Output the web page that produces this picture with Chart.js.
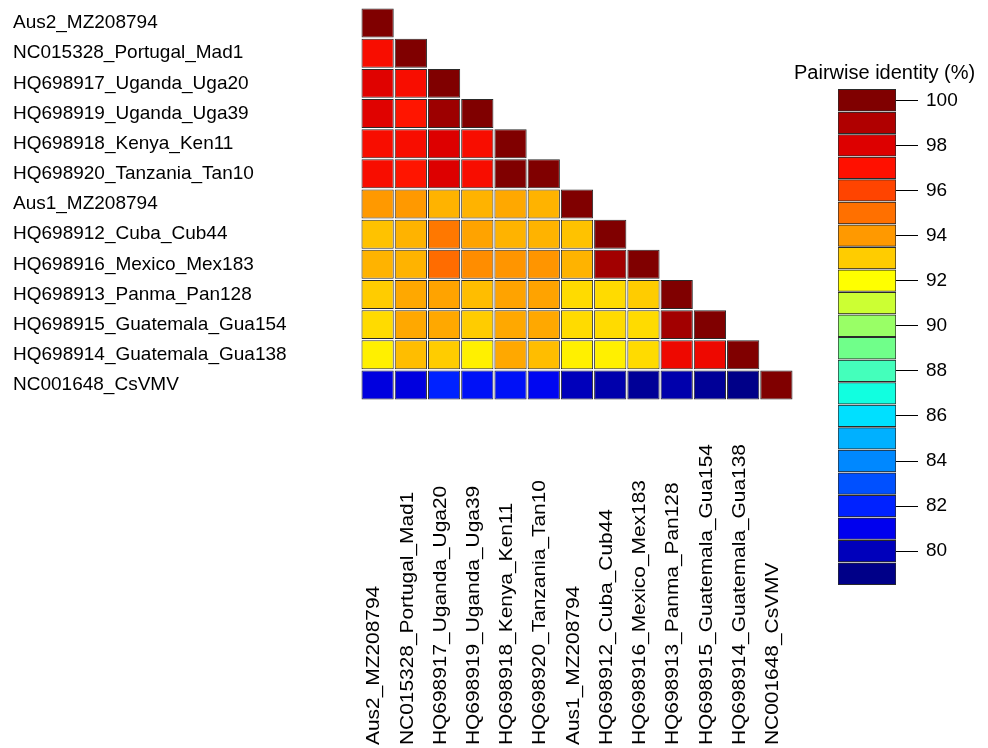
<!DOCTYPE html>
<html>
<head>
<meta charset="utf-8">
<script src="https://cdn.jsdelivr.net/npm/chart.js@4.4.1/dist/chart.umd.min.js"></script>
<style>
  body { margin: 0; background: #fff; overflow: hidden; }
  #wrap { position: relative; width: 988px; height: 748px; }
  #heatmap { position: absolute; left: 0; top: 0; }
  #colorbar { position: absolute; left: 780px; top: 0; }
</style>
</head>
<body>
<div id="wrap">
  <canvas id="heatmap" width="988" height="748"></canvas>
  <canvas id="colorbar" width="208" height="748"></canvas>
</div>
<script>
const isolates = [
  "Aus2_MZ208794",
  "NC015328_Portugal_Mad1",
  "HQ698917_Uganda_Uga20",
  "HQ698919_Uganda_Uga39",
  "HQ698918_Kenya_Ken11",
  "HQ698920_Tanzania_Tan10",
  "Aus1_MZ208794",
  "HQ698912_Cuba_Cub44",
  "HQ698916_Mexico_Mex183",
  "HQ698913_Panma_Pan128",
  "HQ698915_Guatemala_Gua154",
  "HQ698914_Guatemala_Gua138",
  "NC001648_CsVMV",
];

// lower triangle, row i holds identity (%) with columns 0..i
const identityRows = [
  [100],
  [97.2, 100],
  [97.9, 97.2, 100],
  [97.9, 96.9, 99.4, 100],
  [97.2, 97.2, 98.0, 97.2, 100],
  [97.2, 96.9, 98.0, 97.2, 100, 100],
  [94.0, 94.0, 93.5, 93.5, 93.7, 93.5, 100],
  [93.2, 93.5, 94.8, 93.8, 93.5, 93.5, 93.2, 100],
  [93.5, 93.5, 95.1, 94.3, 94.1, 94.1, 93.5, 99.3, 100],
  [93.0, 93.7, 93.8, 93.3, 93.8, 93.8, 92.7, 92.7, 93.0, 100],
  [92.7, 93.7, 93.7, 93.0, 93.7, 93.7, 92.7, 92.7, 92.7, 99.3, 100],
  [92.3, 93.3, 93.0, 92.3, 93.7, 93.3, 92.3, 92.3, 92.7, 97.5, 97.5, 100],
  [80.7, 80.7, 82.0, 81.5, 81.5, 81.2, 80.0, 79.7, 79.3, 79.7, 79.3, 79.0, 100],
];

// colour key, one box per percent
const legendValues = [100, 99, 98, 97, 96, 95, 94, 93, 92, 91, 90, 89, 88, 87, 86, 85, 84, 83, 82, 81, 80, 79];
const legendColors = [
  "#800000", "#b00000", "#dd0000", "#ff1000", "#ff4400", "#ff7000",
  "#ff9900", "#ffcc00", "#ffff00", "#ccff33", "#99ff66", "#70ff8a",
  "#44ffbb", "#11ffe0", "#00e0ff", "#00b0ff", "#0088ff", "#0050ff",
  "#0022ff", "#0000ee", "#0000bb", "#000088",
];
const legendTicks = [80, 82, 84, 86, 88, 90, 92, 94, 96, 98, 100];

Chart.defaults.font.family = 'Arial, "Liberation Sans", sans-serif';
Chart.defaults.font.size = 19;
Chart.defaults.color = "#000";

const hexToRgb = (h) => [1, 3, 5].map((i) => parseInt(h.slice(i, i + 2), 16));

// linear blend between the key colours
const colorFor = (v) => {
  if (v >= legendValues[0]) return legendColors[0];
  const last = legendValues.length - 1;
  if (v <= legendValues[last]) return legendColors[last];
  for (let i = 0; i < last; i++) {
    const hi = legendValues[i], lo = legendValues[i + 1];
    if (v <= hi && v >= lo) {
      const t = (hi - v) / (hi - lo);
      const a = hexToRgb(legendColors[i]), b = hexToRgb(legendColors[i + 1]);
      const c = a.map((x, k) => Math.round(x + (b[k] - x) * t));
      return "rgb(" + c.join(",") + ")";
    }
  }
};

const half = 0.48; // leaves a thin gap between rows

const heatDatasets = identityRows.map((row, r) => ({
  data: isolates.map((_, c) => (c < row.length ? [r + 1 - half, r + 1 + half] : null)),
  backgroundColor: isolates.map((_, c) => (c < row.length ? colorFor(row[c]) : "transparent")),
  borderColor: "#2a2a2a",
  borderWidth: 1,
  borderSkipped: false,
  grouped: false,
  barPercentage: 0.97,
  categoryPercentage: 1,
}));

// column names, written bottom-up from the foot of the page
const columnLabels = {
  id: "columnLabels",
  afterDraw(chart) {
    const ctx = chart.ctx;
    const xs = chart.scales.x;
    ctx.save();
    ctx.font = '19px Arial, "Liberation Sans", sans-serif';
    ctx.fillStyle = "#000";
    ctx.textAlign = "left";
    ctx.textBaseline = "alphabetic";
    isolates.forEach((name, i) => {
      ctx.save();
      ctx.translate(xs.getPixelForValue(i) + 1.7, 745);
      ctx.rotate(-Math.PI / 2);
      ctx.scale(1.1, 1); // the reference text is a little stretched along its length
      ctx.fillText(name, 0, 0);
      ctx.restore();
    });
    ctx.restore();
  },
};

new Chart(document.getElementById("heatmap"), {
  type: "bar",
  data: { labels: isolates, datasets: heatDatasets },
  plugins: [columnLabels],
  options: {
    responsive: false,
    animation: false,
    layout: { padding: { left: 13, top: 8, right: 195, bottom: 348 } },
    plugins: { legend: { display: false }, tooltip: { enabled: false } },
    scales: {
      x: { type: "category", display: false },
      y: {
        type: "linear",
        min: 0.5,
        max: 13.5,
        reverse: true,
        afterBuildTicks: (s) => {
          s.ticks = isolates.map((_, i) => ({ value: i + 1 }));
        },
        afterFit: (s) => {
          s.width = 348;
          s.paddingTop = 0;
          s.paddingBottom = 0;
        },
        ticks: {
          crossAlign: "far",
          autoSkip: false,
          color: "#000",
          callback: (v) => isolates[v - 1],
        },
        grid: { display: false },
        border: { display: false },
      },
    },
  },
});

const legendDatasets = legendValues.map((v, i) => ({
  data: [[v - half, v + half]],
  backgroundColor: legendColors[i],
  borderColor: "#2a2a2a",
  borderWidth: 1,
  borderSkipped: false,
  grouped: false,
  barPercentage: 1,
  categoryPercentage: 1,
  xAxisID: "x",
  yAxisID: "y",
}));

new Chart(document.getElementById("colorbar"), {
  type: "bar",
  data: { labels: [""], datasets: legendDatasets },
  options: {
    responsive: false,
    animation: false,
    layout: { padding: { left: 14, top: 61, right: 0, bottom: 163 } },
    plugins: {
      legend: { display: false },
      tooltip: { enabled: false },
      title: {
        display: true,
        text: "Pairwise identity (%)",
        align: "start",
        color: "#000",
        font: { size: 20, weight: "normal" },
        padding: { top: 0, bottom: 4 },
      },
    },
    scales: {
      x: { display: false },
      spacer: {
        type: "linear",
        axis: "y",
        position: "left",
        ticks: { display: false },
        grid: { display: false },
        border: { display: false },
        afterFit: (s) => {
          s.width = 44;
        },
      },
      y: {
        type: "linear",
        position: "right",
        min: 78.5,
        max: 100.5,
        afterBuildTicks: (s) => {
          s.ticks = legendTicks.map((v) => ({ value: v }));
        },
        afterFit: (s) => {
          s.width = 92;
          s.paddingTop = 0;
          s.paddingBottom = 0;
        },
        ticks: { color: "#000", padding: 8 },
        grid: {
          drawOnChartArea: false,
          drawTicks: true,
          tickLength: 22,
          tickColor: "#000",
          tickWidth: 1,
        },
        border: { display: false },
      },
    },
  },
});
</script>
</body>
</html>
